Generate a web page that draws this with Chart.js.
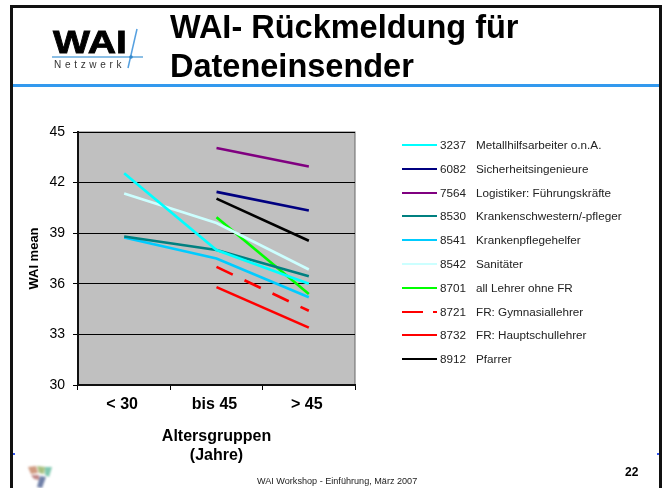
<!DOCTYPE html>
<html>
<head>
<meta charset="utf-8">
<script src="https://cdn.jsdelivr.net/npm/chart.js@4"></script>
<style>
  html, body { margin: 0; padding: 0; background: #fff; }
  body { width: 667px; height: 488px; position: relative; overflow: hidden; font-family: "Liberation Sans", Arial, sans-serif; color: #000; }
  #chartBox { position: absolute; left: 0; top: 0; width: 667px; height: 488px; }
  .frame { position: absolute; background: #111; }
  .blue { position: absolute; background: #3399ee; }
  h1 { position: absolute; left: 170px; top: 8px; margin: 0; font-size: 32.5px; line-height: 39px; font-weight: bold; white-space: nowrap; }
  #logo { position: absolute; left: 50px; top: 26px; width: 95px; height: 46px; }
  #legend div { position: absolute; font-size: 11.7px; line-height: 14px; color: #222; white-space: nowrap; }
  #footer { position: absolute; left: 257px; top: 476px; font-size: 9.1px; color: #222; white-space: nowrap; }
  #page { position: absolute; left: 625px; top: 465px; font-size: 12px; font-weight: bold; }
</style>
</head>
<body>
<div id="chartBox"><canvas id="waiChart" width="667" height="488"></canvas></div>

<div class="frame" style="left:10px;top:5px;width:652px;height:3px"></div>
<div class="frame" style="left:10px;top:5px;width:3px;height:483px"></div>
<div class="frame" style="left:659px;top:5px;width:3px;height:483px"></div>
<div class="blue" style="left:13px;top:84px;width:646px;height:3px"></div>
<div class="blue" style="left:13px;top:453px;width:2px;height:2px;background:#3355ee"></div>
<div class="blue" style="left:657px;top:453px;width:2px;height:2px;background:#3355ee"></div>

<svg id="logo" viewBox="0 0 95 46">
  <text x="3" y="27" font-family="Liberation Sans" font-weight="bold" font-size="32" textLength="74" lengthAdjust="spacingAndGlyphs" stroke="#000" stroke-width="0.8">WAI</text>
  <line x1="2" y1="31" x2="93" y2="31" stroke="#66aadd" stroke-width="1.4"/>
  <line x1="78" y1="42" x2="87" y2="3" stroke="#55a0e0" stroke-width="1.5"/>
  <circle cx="81" cy="31" r="1.8" fill="#3388cc"/>
  <text x="4" y="42" font-family="Liberation Sans" font-size="10" letter-spacing="3.7" fill="#333">Netzwerk</text>
</svg>

<h1>WAI- Rückmeldung für<br>Dateneinsender</h1>
<div id="legend"></div>

<svg style="position:absolute;left:26px;top:465px;filter:blur(0.8px)" width="28" height="23" viewBox="0 0 28 23">
  <path d="M2 2 L10 1 L12 8 L5 9 Z" fill="#d09a80"/>
  <path d="M11 1 L19 2 L18 9 L13 8 Z" fill="#a8c080"/>
  <path d="M19 2 L26 2 L23 12 L19 10 Z" fill="#80c8b0"/>
  <path d="M5 10 L13 10 L13 15 L8 14 Z" fill="#c08888"/>
  <path d="M14 11 L20 12 L16 23 L11 22 Z" fill="#7080a8"/>
</svg>
<div id="footer">WAI Workshop - Einführung, März 2007</div>
<div id="page">22</div>

<script>
const ageGroups = ["< 30", "bis 45", "> 45"];
const yTicks = [30, 33, 36, 39, 42, 45];

const codes = ["3237", "6082", "7564", "8530", "8541", "8542", "8701", "8721", "8732", "8912"];
const jobs = [
  "Metallhilfsarbeiter o.n.A.",
  "Sicherheitsingenieure",
  "Logistiker: Führungskräfte",
  "Krankenschwestern/-pfleger",
  "Krankenpflegehelfer",
  "Sanitäter",
  "all Lehrer ohne FR",
  "FR: Gymnasiallehrer",
  "FR: Hauptschullehrer",
  "Pfarrer",
];
const colors = ["#00ffff", "#000080", "#800080", "#008080", "#00ccff", "#ccffff", "#00ff00", "#ff0000", "#ff0000", "#000000"];

const s3237 = [42.55, 38.0, 36.0];
const s6082 = [null, 41.45, 40.35];
const s7564 = [null, 44.05, 42.95];
const s8530 = [38.8, 38.0, 36.45];
const s8541 = [38.75, 37.5, 35.2];
const s8542 = [41.35, 39.6, 36.85];
const s8701 = [null, 39.95, 35.4];
const s8721 = [null, 37.0, 34.4];
const s8732 = [null, 35.8, 33.4];
const s8912 = [null, 41.05, 38.55];
const allSeries = [s3237, s6082, s7564, s8530, s8541, s8542, s8701, s8721, s8732, s8912];

const plotBackground = {
  id: "plotBackground",
  beforeDraw(chart) {
    const a = chart.chartArea;
    chart.ctx.save();
    chart.ctx.fillStyle = "#c0c0c0";
    chart.ctx.fillRect(a.left, a.top, a.right - a.left, a.bottom - a.top);
    chart.ctx.strokeStyle = "#666";
    chart.ctx.lineWidth = 1;
    chart.ctx.strokeRect(a.left, a.top, a.right - a.left, a.bottom - a.top);
    chart.ctx.restore();
  },
};

new Chart(document.getElementById("waiChart"), {
  type: "line",
  data: {
    labels: ageGroups,
    datasets: allSeries.map((values, i) => ({
      label: codes[i] + " " + jobs[i],
      data: values,
      borderColor: colors[i],
      borderWidth: 2.6,
      borderDash: codes[i] === "8721" ? [18, 13] : [],
      pointRadius: 0,
      tension: 0,
      spanGaps: false,
    })),
  },
  options: {
    responsive: false,
    animation: false,
    layout: { padding: { top: 132, right: 312, left: 0, bottom: 0 } },
    plugins: { legend: { display: false }, tooltip: { enabled: false } },
    scales: {
      x: {
        offset: true,
        afterFit(scale) { scale.height = 103; },
        grid: { offset: true, drawOnChartArea: false, drawTicks: true, tickLength: 5, color: "#000", lineWidth: 1 },
        border: { color: "#111", width: 2 },
        ticks: { color: "#000", font: { family: "Liberation Sans", size: 16, weight: "bold" }, padding: 5, maxRotation: 0, labelOffset: -2 },
        title: {
          display: true,
          text: ["Altersgruppen", "(Jahre)"],
          color: "#000",
          font: { family: "Liberation Sans", size: 16, weight: "bold" },
          padding: { top: 14, bottom: 23 },
        },
      },
      y: {
        min: 30,
        max: 45,
        afterFit(scale) { scale.width = 78; },
        afterBuildTicks(scale) { scale.ticks = yTicks.map((v) => ({ value: v })); },
        grid: { color: "#000", lineWidth: 1, tickLength: 5 },
        border: { color: "#111", width: 2 },
        ticks: { color: "#000", font: { family: "Liberation Sans", size: 14 }, padding: 8 },
        title: {
          display: true,
          text: "WAI mean",
          color: "#000",
          font: { family: "Liberation Sans", size: 13, weight: "bold" },
          padding: { top: 27, bottom: 0 },
        },
      },
    },
  },
  plugins: [plotBackground],
});

// legend is html, the code and the job name sit in two columns
const legend = document.getElementById("legend");
codes.forEach((code, i) => {
  const y = Math.round(145 + i * 23.8);
  const mark = document.createElement("div");
  mark.style.cssText = `left:402px;top:${y - 1}px;width:35px;height:2px;background:${colors[i]}`;
  if (code === "8721") {
    mark.style.background = `linear-gradient(to right, ${colors[i]} 1px 21px, transparent 21px 31px, ${colors[i]} 31px 35px)`;
  }
  const num = document.createElement("div");
  num.style.cssText = `left:440px;top:${y - 7}px`;
  num.textContent = code;
  const name = document.createElement("div");
  name.style.cssText = `left:476px;top:${y - 7}px`;
  name.textContent = jobs[i];
  legend.append(mark, num, name);
});
</script>
</body>
</html>
